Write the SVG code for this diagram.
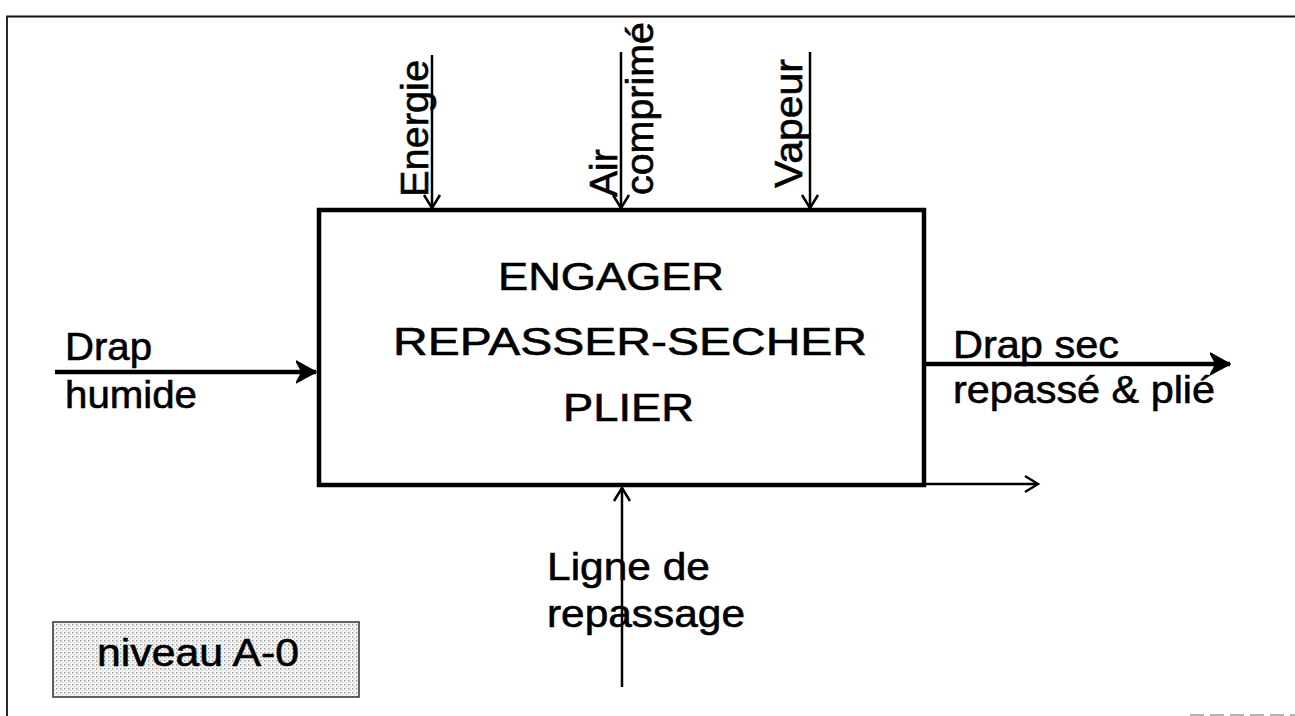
<svg xmlns="http://www.w3.org/2000/svg" width="1295" height="716" viewBox="0 0 1295 716">
  <style>
    .lbl { font-family: "Liberation Sans", Arial, sans-serif; font-size: 39px; fill: #000; stroke: #000; stroke-width: 0.6; }
    .thin { stroke: #000; stroke-width: 2.5; fill: none; }
    .thick { stroke: #000; stroke-width: 4.5; fill: none; }
    .frame { stroke: #111; stroke-width: 1.8; fill: none; }
  </style>
  <defs>
    <marker id="headThin" markerUnits="userSpaceOnUse" markerWidth="20" markerHeight="22" refX="15" refY="10" orient="auto">
      <path d="M2,2 L15,10 L2,18" fill="none" stroke="#000" stroke-width="2.5"/>
    </marker>
    <marker id="headThick" markerUnits="userSpaceOnUse" markerWidth="24" markerHeight="26" refX="20" refY="12" orient="auto">
      <path d="M0,1 L20,12 L0,23 L6,12 Z" fill="#000" stroke="#000" stroke-width="1.5" stroke-linejoin="miter"/>
    </marker>
    <pattern id="dots" width="4" height="4" patternUnits="userSpaceOnUse">
      <rect width="4" height="4" fill="#f4f4f4"/>
      <rect x="0" y="0" width="1.5" height="1.5" fill="#a0a0a0"/>
      <rect x="2" y="2" width="1" height="1" fill="#c8c8c8"/>
    </pattern>
  </defs>

  <rect width="1295" height="716" fill="#fff"/>

  <g id="frame">
    <path class="frame" d="M7,716 V16.5 H1295"/>
    <line x1="1190" y1="715" x2="1295" y2="715" stroke="#999" stroke-width="1.5" stroke-dasharray="14 6"/>
  </g>

  <g id="connectors">
    <line class="thin" x1="432" y1="55" x2="432" y2="208" marker-end="url(#headThin)"/>
    <line class="thin" x1="621" y1="52" x2="621" y2="208" marker-end="url(#headThin)"/>
    <line class="thin" x1="810" y1="52" x2="810" y2="208" marker-end="url(#headThin)"/>
    <line class="thick" x1="55" y1="372" x2="316" y2="372" marker-end="url(#headThick)"/>
    <line class="thick" x1="926" y1="364" x2="1230" y2="364" marker-end="url(#headThick)"/>
    <line class="thin" x1="926" y1="484" x2="1038" y2="484" marker-end="url(#headThin)"/>
    <line class="thin" x1="622" y1="687" x2="622" y2="488" marker-end="url(#headThin)"/>
  </g>

  <g id="node-main">
    <rect x="319" y="210" width="605" height="275" fill="none" stroke="#000" stroke-width="4.5"/>
    <text class="lbl" x="498" y="290" textLength="226" lengthAdjust="spacingAndGlyphs">ENGAGER</text>
    <text class="lbl" x="393" y="355" textLength="474" lengthAdjust="spacingAndGlyphs">REPASSER-SECHER</text>
    <text class="lbl" x="563" y="421" textLength="131" lengthAdjust="spacingAndGlyphs">PLIER</text>
  </g>

  <g id="label-energie">
    <text class="lbl" transform="translate(428,197) rotate(-90)" textLength="137" lengthAdjust="spacingAndGlyphs">Energie</text>
  </g>
  <g id="label-air">
    <text class="lbl" transform="translate(617,197) rotate(-90)">Air</text>
    <text class="lbl" transform="translate(653,195) rotate(-90)" textLength="173" lengthAdjust="spacingAndGlyphs">comprimé</text>
  </g>
  <g id="label-vapeur">
    <text class="lbl" transform="translate(802,188) rotate(-90)" textLength="129" lengthAdjust="spacingAndGlyphs">Vapeur</text>
  </g>

  <g id="label-drap-humide">
    <text class="lbl" x="65" y="360" textLength="87" lengthAdjust="spacingAndGlyphs">Drap</text>
    <text class="lbl" x="65" y="408" textLength="132" lengthAdjust="spacingAndGlyphs">humide</text>
  </g>

  <g id="label-drap-sec">
    <text class="lbl" x="953" y="358" textLength="166" lengthAdjust="spacingAndGlyphs">Drap sec</text>
    <text class="lbl" x="953" y="403" textLength="262" lengthAdjust="spacingAndGlyphs">repassé &amp; plié</text>
  </g>

  <g id="label-ligne">
    <text class="lbl" x="547" y="580" textLength="163" lengthAdjust="spacingAndGlyphs">Ligne de</text>
    <text class="lbl" x="547" y="627" textLength="198" lengthAdjust="spacingAndGlyphs">repassage</text>
  </g>

  <g id="node-niveau">
    <rect x="53" y="622" width="306" height="75" fill="url(#dots)" stroke="#333" stroke-width="1.5"/>
    <text class="lbl" x="97" y="666" textLength="202" lengthAdjust="spacingAndGlyphs">niveau A-0</text>
  </g>
</svg>
